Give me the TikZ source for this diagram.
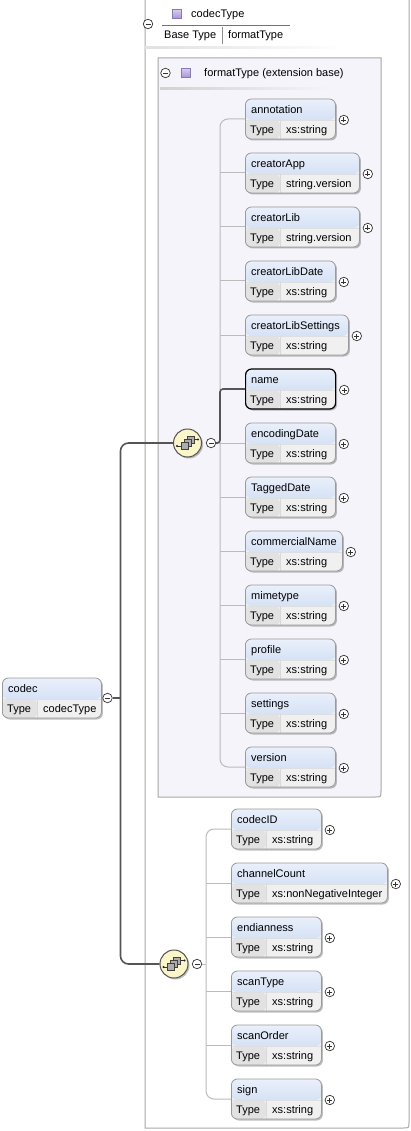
\documentclass[tikz,border=0pt]{standalone}
\usepackage{fontspec}
\setmainfont{Liberation Sans}
\usetikzlibrary{shadows,calc}
\definecolor{hdtop}{HTML}{EAF0FB}
\definecolor{hdbot}{HTML}{C3D4F1}
\definecolor{typecell}{HTML}{E2E2E2}
\definecolor{valcell}{HTML}{F0F0F0}
\definecolor{boxborder}{HTML}{9A9A9A}
\definecolor{treeline}{HTML}{BBBBBB}
\definecolor{darkline}{HTML}{555555}
\definecolor{panelfill}{HTML}{F5F4FA}
\definecolor{panelborder}{HTML}{A8A8A8}
\definecolor{seqfill}{HTML}{FBF6C8}
\definecolor{purpA}{HTML}{D8CCF0}
\definecolor{purpB}{HTML}{A694D4}
\definecolor{purpD}{HTML}{8A78BE}
\tikzset{
 lbl/.style={inner sep=0pt, anchor=west, font=\fontsize{11}{13}\selectfont, text height=7.5pt, text depth=2pt},
 elembox/.style={rectangle, rounded corners=6pt, draw=boxborder, line width=0.8pt, minimum height=40pt,
   inner sep=0pt, anchor=west, fill=valcell,
   drop shadow={shadow xshift=1.5pt, shadow yshift=-1.5pt, fill=black, opacity=0.25},
   path picture={
     \fill[top color=hdtop, bottom color=hdbot] (path picture bounding box.north west) rectangle ([yshift=-21pt]path picture bounding box.north east);
     \fill[typecell] ([yshift=-21pt]path picture bounding box.north west) rectangle ([xshift=35pt]path picture bounding box.south west);
     \draw[white!75!gray, line width=0.6pt] ([yshift=-21pt]path picture bounding box.north west) -- ([yshift=-21pt]path picture bounding box.north east);
     \draw[white!70!gray, line width=0.6pt] ([xshift=35pt,yshift=-21pt]path picture bounding box.north west) -- ([xshift=35pt]path picture bounding box.south west);
   }},
 plusc/.style={circle, draw=black!80, line width=0.7pt, fill=white, minimum size=9.5pt, inner sep=0pt,
   path picture={
     \draw[line width=0.7pt] ([xshift=-2.5pt]path picture bounding box.center) -- ([xshift=2.5pt]path picture bounding box.center);
     \draw[line width=0.7pt] ([yshift=-2.5pt]path picture bounding box.center) -- ([yshift=2.5pt]path picture bounding box.center);}},
 minusc/.style={circle, draw=black!80, line width=0.7pt, fill=white, minimum size=9.5pt, inner sep=0pt,
   path picture={
     \draw[line width=0.7pt] ([xshift=-2.5pt]path picture bounding box.center) -- ([xshift=2.5pt]path picture bounding box.center);}},
 seq/.style={circle, draw=darkline, line width=1pt, fill=seqfill, minimum size=28pt, inner sep=0pt,
   drop shadow={shadow xshift=1.5pt, shadow yshift=-1.5pt, fill=black, opacity=0.25},
   path picture={
     \draw[black!80, line width=0.8pt] ([xshift=-10.5pt,yshift=-3pt]path picture bounding box.center) -- ([xshift=-5pt,yshift=-3pt]path picture bounding box.center);
     \draw[black!80, line width=0.8pt] ([xshift=5pt,yshift=3.5pt]path picture bounding box.center) -- ([xshift=10.5pt,yshift=3.5pt]path picture bounding box.center);
     \fill[black!85] ([xshift=-10.5pt,yshift=-3pt]path picture bounding box.center) circle (1.1pt);
     \fill[black!85] ([xshift=10.5pt,yshift=3.5pt]path picture bounding box.center) circle (1.1pt);
     \draw[black!75, fill=black!32, line width=0.6pt] ([xshift=-0.5pt,yshift=0pt]path picture bounding box.center) rectangle ([xshift=6.5pt,yshift=7pt]path picture bounding box.center);
     \draw[black!75, fill=black!32, line width=0.6pt] ([xshift=-3.5pt,yshift=-3pt]path picture bounding box.center) rectangle ([xshift=3.5pt,yshift=4pt]path picture bounding box.center);
     \draw[black!75, fill=black!32, line width=0.6pt] ([xshift=-6.5pt,yshift=-6.5pt]path picture bounding box.center) rectangle ([xshift=0.5pt,yshift=0.5pt]path picture bounding box.center);
   }},
 sq/.style={rectangle, minimum size=9pt, inner sep=0pt, draw=purpD, line width=0.6pt, top color=purpA, bottom color=purpB},
 tree/.style={draw=treeline, line width=1pt},
 dark/.style={draw=darkline, line width=1.6pt},
}
\newcommand\elem[8]{%
 \node[elembox, minimum width=#4pt, #7] (#1) at (#2,#3) {};
 \node[lbl] (#1-n) at ([xshift=6pt,yshift=-12pt]#1.north west) {#5};
 \node[lbl] (#1-t) at ([xshift=5pt,yshift=9pt]#1.south west) {Type};
 \node[lbl] (#1-v) at ([xshift=41pt,yshift=9pt]#1.south west) {#6};
 \node[#8] (#1-p) at ([xshift=8pt,yshift=-1pt]#1.east) {};
}
\begin{document}
\begin{tikzpicture}[x=1pt,y=-1pt]
\useasboundingbox (0,0) rectangle (411,1131);
\fill[white] (0,0) rectangle (411,1131);
% outer complex type panel
\draw[panelborder, line width=1pt, fill=white] (145,-10) -- (145,1128) -- (403,1128) .. controls (409,1128) .. (409,1122) -- (409,-10);
% codecType header
\node[minusc] (m-ct) at (148,24) {};
\node[sq] (ctsq) at (177,14) {};
\node[lbl] (ctname) at (191,15) {codecType};
\draw[black!55, line width=0.6pt] (162,25.5) -- (290,25.5);
\node[lbl] (bt) at (164,35.5) {Base Type};
\draw[black!45, line width=0.6pt] (222.5,27) -- (222.5,44);
\node[lbl] (btv) at (228,35.5) {formatType};
\shade[left color=black!12, right color=white] (145,46.5) rectangle (345,48.3);
% inner extension panel
\draw[panelborder, line width=1pt, fill=panelfill] (158,58) -- (158,797) -- (375,797) .. controls (381,797) .. (381,791) -- (381,58) -- cycle;
\node[minusc] (m-ft) at (165.5,73) {};
\node[sq] (ftsq) at (186,73) {};
\node[lbl] (ftname) at (204,73.5) {formatType (extension base)};
\shade[left color=black!18, right color=panelfill] (160,87.5) rectangle (330,89.2);
% bus coordinates
\coordinate (bus0) at (120.5,698);
\coordinate (bus1) at (220,443);
\coordinate (bus2) at (206,964);
% elements of formatType
\elem{annotation}{245}{119}{90}{annotation}{xs:string}{}{plusc}
\elem{creatorApp}{245}{173}{114}{creatorApp}{string.version}{}{plusc}
\elem{creatorLib}{245}{227}{114}{creatorLib}{string.version}{}{plusc}
\elem{creatorLibDate}{245}{281}{90}{creatorLibDate}{xs:string}{}{plusc}
\elem{creatorLibSettings}{245}{335}{103}{creatorLibSettings}{xs:string}{}{plusc}
\elem{name}{245}{389}{90}{name}{xs:string}{draw=black, line width=1.2pt}{plusc}
\elem{encodingDate}{245}{443}{90}{encodingDate}{xs:string}{}{plusc}
\elem{TaggedDate}{245}{497}{90}{TaggedDate}{xs:string}{}{plusc}
\elem{commercialName}{245}{551}{97}{commercialName}{xs:string}{}{plusc}
\elem{mimetype}{245}{605}{90}{mimetype}{xs:string}{}{plusc}
\elem{profile}{245}{659}{90}{profile}{xs:string}{}{plusc}
\elem{settings}{245}{713}{90}{settings}{xs:string}{}{plusc}
\elem{version}{245}{767}{90}{version}{xs:string}{}{plusc}
% elements of codecType
\elem{codecID}{231}{829}{90}{codecID}{xs:string}{}{plusc}
\elem{channelCount}{231}{883}{156}{channelCount}{xs:nonNegativeInteger}{}{plusc}
\elem{endianness}{231}{937}{90}{endianness}{xs:string}{}{plusc}
\elem{scanType}{231}{991}{90}{scanType}{xs:string}{}{plusc}
\elem{scanOrder}{231}{1045}{90}{scanOrder}{xs:string}{}{plusc}
\elem{sign}{231}{1099}{90}{sign}{xs:string}{}{plusc}
% root element
\node[elembox, minimum width=99pt] (codec) at (2,698) {};
\node[lbl] (codec-n) at ([xshift=6pt,yshift=-12pt]codec.north west) {codec};
\node[lbl] (codec-t) at ([xshift=5pt,yshift=9pt]codec.south west) {Type};
\node[lbl] (codec-v) at ([xshift=41pt,yshift=9pt]codec.south west) {codecType};
\node[minusc] (m0) at (107.5,698) {};
% sequences
\node[seq] (seq1) at (187.5,443) {};
\node[minusc] (m1) at (211,443) {};
\node[seq] (seq2) at (174,964) {};
\node[minusc] (m2) at (197,964) {};
% tree lines group 1
\draw[tree, rounded corners=8pt] (annotation.west) -| (bus1) |- (version.west);
\foreach \e in {creatorApp,creatorLib,creatorLibDate,creatorLibSettings,TaggedDate,commercialName,mimetype,profile,settings}
  \draw[tree] (\e.west) -- (\e.west -| bus1);
\draw[tree] (m1.east) -- (encodingDate.west);
% tree lines group 2
\draw[tree, rounded corners=8pt] (codecID.west) -| (bus2) |- (sign.west);
\foreach \e in {channelCount,endianness,scanType,scanOrder}
  \draw[tree] (\e.west) -- (\e.west -| bus2);
\draw[tree] (m2.east) -- (bus2);
% dark connectors
\draw[dark] (m0.east) -- (bus0);
\draw[dark, rounded corners=8pt] (seq1.west) -| (bus0) |- (seq2.west);
\draw[dark, rounded corners=3pt] (m1.east) -- (bus1) |- (name.west);
\end{tikzpicture}
\end{document}
